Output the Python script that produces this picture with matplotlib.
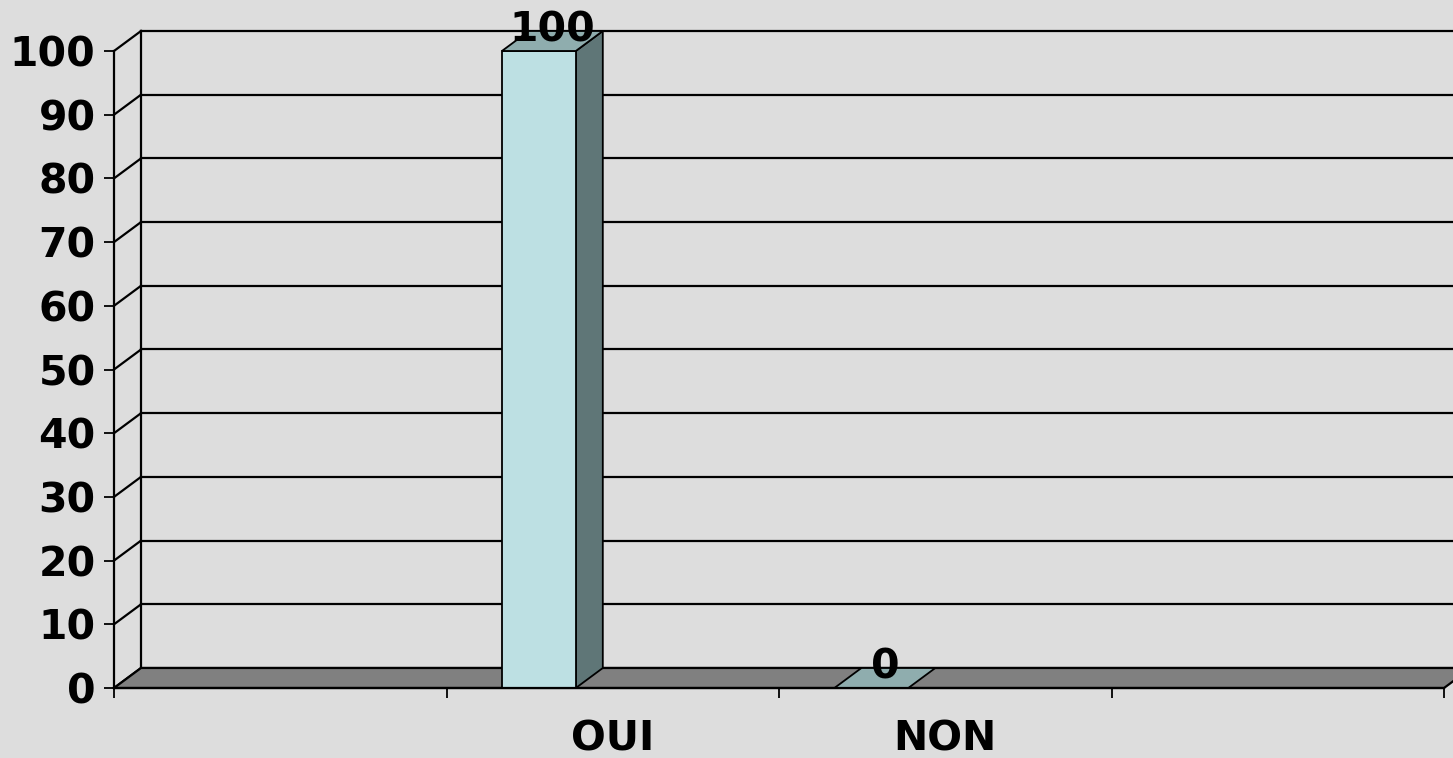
import matplotlib.pyplot as plt
from matplotlib.patches import Polygon

# données du graphique
categories = ["", "OUI", "NON", ""]
valeurs = [None, 100, 0, None]
graduations = list(range(0, 101, 10))

# style 3D (profondeur en unités de données)
larg = 1 / 4.5
dx, dy = 0.0812, 3.14
fond = "#dddddd"
sol = "#808080"
face = "#bde0e3"
dessus = "#8fadae"
cote = "#5f7677"
taille = 29.5

plt.rcParams['font.family'] = ['DejaVu Sans']
plt.rcParams['font.weight'] = 'bold'

fig = plt.figure(figsize=(14.53, 7.58), dpi=100, facecolor=fond)
ax = fig.add_axes([114 / 1453, 70 / 758, 1330 / 1453, 637 / 758])
ax.set_facecolor(fond)
ax.set_xlim(-0.5, len(categories) - 0.5)
ax.set_ylim(0, 100)
xmin, xmax = ax.get_xlim()

# quadrillage : paroi de fond + paroi de gauche
for g in graduations:
    ax.plot([xmin + dx, xmax + dx], [g + dy, g + dy], color="black", lw=1.6, clip_on=False, zorder=1)
    ax.plot([xmin, xmin + dx], [g, g + dy], color="black", lw=1.6, clip_on=False, zorder=1)
ax.plot([xmin + dx, xmin + dx], [dy, 100 + dy], color="black", lw=1.6, clip_on=False, zorder=1)

# plancher
ax.add_patch(Polygon([(xmin, 0), (xmax, 0), (xmax + dx, dy), (xmin + dx, dy)],
                     facecolor=sol, edgecolor="black", lw=1.6, clip_on=False, zorder=2))

# barres 3D
for i, v in enumerate(valeurs):
    if v is None:
        continue
    x0 = i - larg - larg / 2
    x1 = x0 + larg
    kw = dict(edgecolor="black", lw=1.3, clip_on=False, zorder=3)
    if v > 0:
        ax.add_patch(Polygon([(x1, 0), (x1 + dx, dy), (x1 + dx, v + dy), (x1, v)], facecolor=cote, **kw))
        ax.add_patch(Polygon([(x0, 0), (x1, 0), (x1, v), (x0, v)], facecolor=face, **kw))
    ax.add_patch(Polygon([(x0, v), (x1, v), (x1 + dx, v + dy), (x0 + dx, v + dy)], facecolor=dessus, **kw))
    ax.text((x0 + x1) / 2 + dx / 2, v + dy, f"{v}", ha="center", va="center",
            fontsize=taille, fontweight="bold", zorder=5, clip_on=False)

# axes
for s in ["top", "right"]:
    ax.spines[s].set_visible(False)
for s in ["left", "bottom"]:
    ax.spines[s].set_linewidth(1.6)
    ax.spines[s].set_zorder(4)

ax.set_yticks(graduations)
ax.set_yticklabels([str(g) for g in graduations], fontsize=taille, fontweight="bold")
ax.tick_params(axis="y", direction="out", length=7.2, width=1.3, pad=6)

ax.set_xticks([i - 0.5 for i in range(len(categories) + 1)])
ax.set_xticklabels([])
ax.set_xticks(range(len(categories)), minor=True)
ax.set_xticklabels(categories, minor=True, fontsize=taille, fontweight="bold")
ax.tick_params(axis="x", which="major", direction="out", length=7.2, width=1.3)
ax.tick_params(axis="x", which="minor", length=0, pad=23)

fig.savefig("out.png", dpi=100, facecolor=fond)
